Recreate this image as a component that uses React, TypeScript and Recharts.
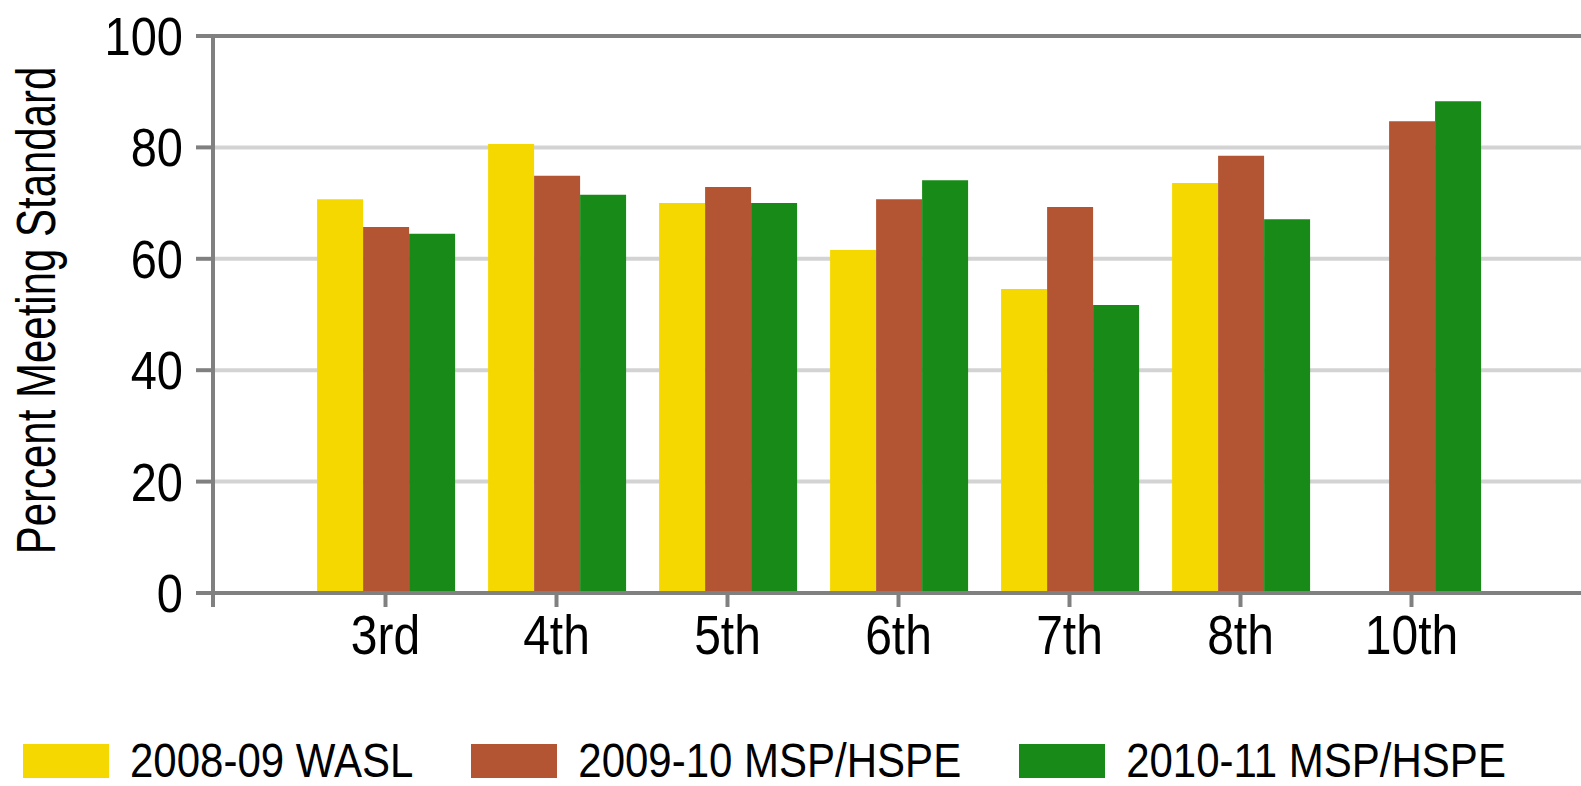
import { Bar, BarChart, CartesianGrid, Legend, ReferenceLine, XAxis, YAxis } from 'recharts';

const grades = ['3rd', '4th', '5th', '6th', '7th', '8th', '10th'];
const wasl0809 = [70.7, 80.6, 70.0, 61.6, 54.6, 73.6, null];
const msp0910 = [65.7, 74.9, 72.9, 70.7, 69.3, 78.5, 84.7];
const msp1011 = [64.5, 71.5, 70.0, 74.1, 51.7, 67.1, 88.3];
const yTicks = [0, 20, 40, 60, 80, 100];

const FONT = "'Liberation Sans', Arial, sans-serif";
const AXIS = '#808080';

const data = grades.map((grade, i) => ({
  grade,
  wasl: wasl0809[i],
  msp10: msp0910[i],
  msp11: msp1011[i],
}));

// the source text is a bit taller than Arial, so stretch it vertically
function YTick({ x, y, payload }: any) {
  return (
    <g>
      <text
        transform={`translate(${x}, ${y}) scale(1, 1.14)`}
        dy="0.355em"
        textAnchor="end"
        fontFamily={FONT}
        fontSize={47}
        fill="#000"
      >
        {payload.value}
      </text>
      {payload.value === 0 && <line x1={x + 30} x2={x + 30} y1={y} y2={y + 14} stroke={AXIS} strokeWidth={4} />}
    </g>
  );
}

function XTick({ x, y, payload }: any) {
  return (
    <text
      transform={`translate(${x}, ${y}) scale(1, 1.14)`}
      dy="0.71em"
      textAnchor="middle"
      fontFamily={FONT}
      fontSize={48}
      fill="#000"
    >
      {payload.value}
    </text>
  );
}

function LegendBox({ payload }: any) {
  return (
    <div style={{ display: 'flex', alignItems: 'center', height: 0, overflow: 'visible' }}>
      {payload.map((item: any) => (
        <div key={item.value} style={{ display: 'flex', alignItems: 'center', marginRight: 58 }}>
          <span style={{ display: 'inline-block', width: 86, height: 34, background: item.color }} />
          <span
            style={{
              marginLeft: 21,
              fontFamily: FONT,
              fontSize: 42,
              lineHeight: 1,
              color: '#000',
              whiteSpace: 'nowrap',
              display: 'inline-block',
              transform: 'scaleY(1.13)',
            }}
          >
            {item.value}
          </span>
        </div>
      ))}
    </div>
  );
}

export default function App() {
  return (
    <div style={{ position: 'absolute', left: 0, top: 0, background: '#fff' }}>
      <BarChart
        width={1581}
        height={786}
        data={data}
        margin={{ top: 36, right: 0, bottom: 133, left: 0 }}
        barCategoryGap="10%"
        barGap={0}
      >
        <CartesianGrid vertical={false} stroke="#d3d3d3" strokeWidth={4} />
        <XAxis
          dataKey="grade"
          height={60}
          padding={{ left: 87, right: 84 }}
          axisLine={{ stroke: AXIS, strokeWidth: 4 }}
          tickLine={{ stroke: AXIS, strokeWidth: 4 }}
          tickSize={14}
          tickMargin={8}
          tick={<XTick />}
          interval={0}
        />
        <YAxis
          width={213}
          domain={[0, 100]}
          ticks={yTicks}
          axisLine={{ stroke: AXIS, strokeWidth: 4 }}
          tickLine={{ stroke: AXIS, strokeWidth: 4 }}
          tickSize={17}
          tickMargin={13}
          tick={<YTick />}
          label={{
            value: 'Percent Meeting Standard',
            content: ({ viewBox }: any) => {
              const cy = viewBox.y + viewBox.height / 2 - 4;
              return (
                <text
                  transform={`translate(55, ${cy}) rotate(-90) scale(1, 1.3)`}
                  textAnchor="middle"
                  fontFamily={FONT}
                  fontSize={42}
                  fill="#000"
                >
                  Percent Meeting Standard
                </text>
              );
            },
          }}
        />
        <ReferenceLine y={100} stroke={AXIS} strokeWidth={4} />
        <Legend
          content={<LegendBox />}
          wrapperStyle={{ position: 'absolute', left: 23, top: 761, bottom: 'auto', width: 'auto', height: 0 }}
        />
        <Bar dataKey="wasl" name="2008-09 WASL" fill="#f5d800" isAnimationActive={false} />
        <Bar dataKey="msp10" name="2009-10 MSP/HSPE" fill="#b35532" isAnimationActive={false} />
        <Bar dataKey="msp11" name="2010-11 MSP/HSPE" fill="#188a17" isAnimationActive={false} />
      </BarChart>
    </div>
  );
}
